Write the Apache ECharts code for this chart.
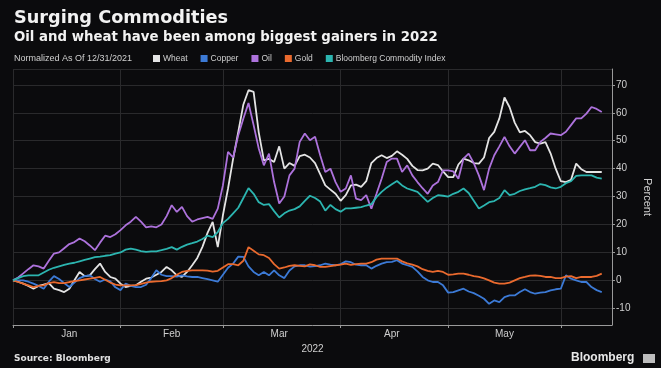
<!DOCTYPE html>
<html>
<head>
<meta charset="utf-8">
<script src="https://cdn.jsdelivr.net/npm/echarts@6/dist/echarts.min.js"></script>
<style>
html,body{margin:0;padding:0;background:#0b0b0d;}
#c{width:661px;height:368px;}
</style>
</head>
<body>
<div id="c"></div>
<script>
// ---- data (normalized % change since 12/31/2021, one value per trading day) ----
const seriesNames = ['Wheat', 'Copper', 'Oil', 'Gold', 'Bloomberg Commodity Index'];
const monthLabels = ['Jan', 'Feb', 'Mar', 'Apr', 'May'];
const monthLabelIdx = [11, 31, 52, 74, 96];
const monthEndIdx = [0, 21, 41, 64, 85, 107];
const yTicks = [-10, 0, 10, 20, 30, 40, 50, 60, 70];

const wheat = [0,-0.5,-1.2,-2,-3,-2,-1.5,-1,-3,-3.5,-4.2,-3,0,3,1.5,1.8,4,6,3,1.2,
0.6,-1.2,-2.4,-2,-1.8,-0.5,0.6,1,2,3,4.8,3.6,1.8,1.2,3,5.4,8,12,17,20.9,
11.9,23.3,32.9,43.6,53.2,63,68.1,67.5,53,43,43.5,42.4,48,40,42,41,44.5,45,44,42,
38,34,32.5,31,28.5,30.5,34,34.3,33.5,35.5,42,43.8,44.8,43.8,44.6,46.2,45,43.5,41,39.5,
39.4,40,41.8,41.3,39,37,37,41.5,43.6,43,42,41.8,44,51,53.2,58,65.5,62,56.5,53,
53.5,52,49.5,49,49.5,45.5,40,35.5,35.2,36,41.8,39.8,38.8,38.8,38.8,38.8];

const copper = [0,0,0,-0.5,-1.2,-2,-3,-0.5,1.5,0.5,-1,-2.4,-0.8,0.8,1.5,1.8,0.5,-0.5,0.3,-0.4,
-2.5,-3.5,-1.2,-2,-2.4,-2.4,-1.6,0.8,3.6,2,1.5,1.5,1.3,1.8,1.4,1.2,1.2,0.8,0.4,0,
-0.5,2,4.5,6,8.5,8.4,5,3,1.8,3,1.8,3.6,1.8,0.8,3.5,5,5.4,5.4,4.9,5.1,
5.4,6,5.6,5.4,5.8,6.8,6.5,5.6,5.4,5.4,4.2,5.2,6,6.5,6.6,7.2,6,5.4,4.8,3.2,
1.2,0,-0.6,-0.6,-1.8,-4.4,-4.2,-3.6,-3,-4,-4.6,-5.5,-6.6,-8.4,-7.2,-7.8,-6,-5.4,-5.4,-4.2,
-3.2,-4.2,-4.8,-4.4,-4.2,-3.6,-3.2,-3,1.8,0.6,0,-0.6,-0.6,-2.4,-3.5,-4.2];

const oil = [0,1,2.5,4,5.4,5,4.2,7,9.6,10,11.5,13,13.7,15,14,12.5,10.8,13.5,16,15.5,
16.5,18,19.7,21,22.7,21,19,19.3,19,20,23,26.9,24.5,26.3,23,21,21.8,22.3,22.7,22,
25.7,34,46,44,52,58,63.5,55.6,47.2,41.2,45.4,35.2,27.5,30,37.6,40,49.6,52.6,50.2,51.4,
44.8,38.8,40,35.2,31.7,32.9,37.6,29.3,28.7,30.5,25.7,31,36.4,42.4,43.6,43.6,38.8,41.2,37.6,35.2,
33,31,34,35.2,39.4,39.4,39,36.4,43.6,45.4,42,37.6,32.3,40,44.8,48,51.4,48,45.4,47.8,
50.2,46.6,46.6,49.6,51,52.6,52.3,52,53.2,55.6,58,58,59.7,62.1,61.4,60.3];

const gold = [0,-0.6,-1.2,-1.8,-2.4,-2,-1.8,-1,-0.6,-1,-1,-0.6,-0.3,0,0.3,0.6,0.9,1.2,0.2,-0.8,
-1.5,-1.8,-1.8,-1.8,-1.7,-1.3,-0.8,-0.5,-0.4,-0.3,0,0.8,2,3,3.4,3.6,3.6,3.6,3.5,3.1,
3.4,4.6,5.8,5.8,5.4,7,11.9,10.6,9.3,9,8,5.8,4.2,4.6,5.2,5.4,5.2,5,5.7,5.4,
4.8,4.8,5.1,5.4,5.6,6,5.5,5.8,6,6,6.5,7.4,7.8,7.8,7.8,7.8,6.8,6.1,5.6,5,
4,3.4,3,3.4,3,2,2.1,2.4,2.4,2,1.5,1.2,0.7,0,-0.8,-1.2,-1.2,-0.8,0,0.8,
1.2,1.7,1.8,1.6,1.2,1.2,0.8,0.8,1.3,1.5,0.8,1.2,1.2,1.2,1.6,2.4];

const bcom = [0,0.8,1.5,1.8,1.8,1.8,2.8,3.8,4.5,5,5.5,6,6.3,6.8,7.3,7.8,8.3,8.5,8.8,9,
9.6,10,11,11.4,11,10.5,10.2,10.4,10.4,10.8,11.3,11.9,11,12,12.8,13.3,13.9,14.8,16,15.5,
17.3,20.5,22,24,26,29.5,33,31,28,27,27.3,24.8,22.5,24,25,25.5,26.5,28.5,30.3,29.5,
28.2,25,27,25.5,24.6,25.8,25.8,26,26.2,26.8,27.3,29.8,31.7,33.2,34.4,35.6,34,32.9,32.3,31.7,
29.9,28.1,29.5,30.5,30.3,30,31,31.7,32.9,31.3,28.5,25.7,26.8,28,28.4,29.5,32.3,30.5,31,32,
32.6,33,33.5,34.5,34.1,33.3,32.9,33.5,34.8,35.5,37.4,37.6,37.6,37.6,36.8,36.4];

const colors = ['#e4e4e4', '#3c7ad6', '#ad72dc', '#ea6a2e', '#2cb5b0'];

// trading-day category axis (weekdays from 12/31/2021), a few spare days after the data
const categories = [];
(function () {
  const d = new Date(Date.UTC(2021, 11, 31));
  while (categories.length < 118) {
    const wd = d.getUTCDay();
    if (wd !== 0 && wd !== 6) categories.push(d.toISOString().slice(0, 10));
    d.setUTCDate(d.getUTCDate() + 1);
  }
})();

const chart = echarts.init(document.getElementById('c'), null, {renderer: 'canvas'});
const allData = [wheat, copper, oil, gold, bcom];
const FONT = 'Liberation Sans';
const WIDE = 'DejaVu Sans';

chart.setOption({
  backgroundColor: '#0b0b0d',
  animation: false,
  color: colors,
  title: [
    {text: 'Surging Commodities', left: 14, top: 9, padding: 0,
      textStyle: {color: '#f2f2f2', fontSize: 17.7, fontWeight: 'bold', fontFamily: WIDE}},
    {text: 'Oil and wheat have been among biggest gainers in 2022', left: 14, top: 31, padding: 0,
      textStyle: {color: '#f2f2f2', fontSize: 13.3, fontWeight: 'bold', fontFamily: WIDE}},
    {text: 'Normalized As Of 12/31/2021', left: 14, top: 54, padding: 0,
      textStyle: {color: '#d0d0d0', fontSize: 9, fontWeight: 'normal', fontFamily: FONT}},
    {text: 'Source: Bloomberg', left: 14, top: 354, padding: 0,
      textStyle: {color: '#e0e0e0', fontSize: 9, fontWeight: 'bold', fontFamily: WIDE}},
    {text: 'Bloomberg', left: 571, top: 352, padding: 0,
      textStyle: {color: '#e8e8e8', fontSize: 12, fontWeight: 'bold', fontFamily: FONT}}
  ],
  legend: {
    data: seriesNames,
    left: 153, top: 54,
    icon: 'rect', itemWidth: 7, itemHeight: 7, itemGap: 13,
    textStyle: {color: '#d0d0d0', fontSize: 8.5, fontFamily: FONT, padding: [0, 0, 0, -2]},
    padding: 0
  },
  graphic: [
    {type: 'rect', left: 643, top: 354, shape: {width: 12, height: 9}, style: {fill: '#bdbdbd'}}
  ],
  grid: {left: 13, right: 49, top: 69, bottom: 43},
  xAxis: {
    type: 'category',
    data: categories,
    boundaryGap: false,
    name: '2022',
    nameLocation: 'middle',
    nameGap: 16,
    nameTextStyle: {color: '#cfcfcf', fontSize: 10, fontFamily: FONT},
    axisLine: {onZero: false, lineStyle: {color: '#9a9a9a', width: 1}},
    axisTick: {show: true, length: 3, lineStyle: {color: '#9a9a9a'},
      interval: (i) => monthEndIdx.indexOf(i) >= 0},
    axisLabel: {color: '#cfcfcf', fontSize: 10, fontFamily: FONT, margin: 4,
      interval: (i) => monthLabelIdx.indexOf(i) >= 0,
      formatter: (v, i) => { const k = monthLabelIdx.indexOf(i); return k >= 0 ? monthLabels[k] : ''; }},
    splitLine: {show: true, lineStyle: {color: '#2a2a2c', width: 1},
      interval: (i) => monthEndIdx.indexOf(i) >= 0}
  },
  yAxis: {
    type: 'value',
    position: 'right',
    min: -16, max: 75.7,
    splitNumber: 9,
    name: 'Percent',
    nameLocation: 'middle',
    nameRotate: -90,
    nameGap: 27,
    nameTextStyle: {color: '#cfcfcf', fontSize: 11, fontFamily: FONT},
    axisLine: {show: true, lineStyle: {color: '#9a9a9a', width: 1}},
    axisTick: {show: true, length: 3, inside: false, lineStyle: {color: '#9a9a9a'}},
    axisLabel: {color: '#cfcfcf', fontSize: 10, fontFamily: FONT, margin: 4,
      showMinLabel: false, showMaxLabel: false,
      formatter: (v) => yTicks.indexOf(v) >= 0 ? String(v) : ''},
    splitLine: {show: true, lineStyle: {color: '#2a2a2c', width: 1}}
  },
  series: seriesNames.map((n, k) => ({
    name: n,
    type: 'line',
    data: allData[k],
    showSymbol: false,
    symbol: 'none',
    lineStyle: {width: 1.8, color: colors[k]},
    itemStyle: {color: colors[k]},
    z: 2 + k
  }))
});
</script>
</body>
</html>
